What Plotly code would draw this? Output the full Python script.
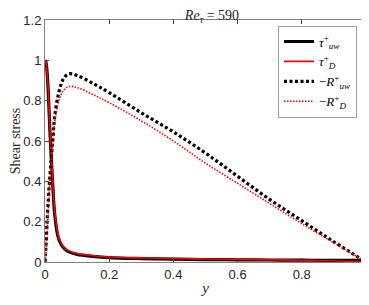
import plotly.graph_objects as go

y_pos = [0, 0.003, 0.006, 0.01, 0.015, 0.02, 0.025, 0.03, 0.04, 0.05, 0.06, 0.075,
         0.1, 0.15, 0.2, 0.3, 0.4, 0.5, 0.6, 0.7, 0.8, 0.9, 1.0]

tau_uw = [1.0, 0.99, 0.95, 0.85, 0.66, 0.5, 0.36, 0.24, 0.13, 0.088, 0.067, 0.05,
          0.038, 0.028, 0.022, 0.017, 0.014, 0.012, 0.011, 0.01, 0.009, 0.008, 0.008]
tau_D = [1.0, 0.99, 0.95, 0.86, 0.68, 0.52, 0.38, 0.26, 0.14, 0.095, 0.072, 0.055,
         0.042, 0.031, 0.025, 0.02, 0.017, 0.015, 0.013, 0.011, 0.009, 0.006, 0.0]
R_uw = [0, 0.08, 0.18, 0.3, 0.42, 0.52, 0.62, 0.72, 0.82, 0.88, 0.915, 0.933,
        0.925, 0.885, 0.84, 0.74, 0.645, 0.54, 0.425, 0.31, 0.205, 0.1, 0.0]
R_D = [0, 0.05, 0.13, 0.25, 0.4, 0.5, 0.6, 0.69, 0.78, 0.83, 0.855, 0.87,
       0.865, 0.83, 0.79, 0.7, 0.6, 0.49, 0.39, 0.29, 0.19, 0.095, 0.0]

x_ticks = [0, 0.2, 0.4, 0.6, 0.8, 1]
x_labels = ["0", "0.2", "0.4", "0.6", "0.8", "1"]
y_ticks = [0, 0.2, 0.4, 0.6, 0.8, 1, 1.2]
y_labels = ["0", "0.2", "0.4", "0.6", "0.8", "1", "1.2"]

names = ["<i>τ</i><sup>+</sup><sub><i>uw</i></sub>",
         "<i>τ</i><sup>+</sup><sub><i>D</i></sub>",
         "−<i>R</i><sup>+</sup><sub><i>uw</i></sub>",
         "−<i>R</i><sup>+</sup><sub><i>D</i></sub>"]

fig = go.Figure()
fig.add_trace(go.Scatter(x=y_pos, y=tau_uw, mode="lines", name=names[0],
                         line=dict(color="black", width=3.2, shape="spline")))
fig.add_trace(go.Scatter(x=y_pos, y=tau_D, mode="lines", name=names[1],
                         line=dict(color="red", width=1.6, shape="spline")))
fig.add_trace(go.Scatter(x=y_pos, y=R_uw, mode="lines", name=names[2],
                         line=dict(color="black", width=3.2, dash="3px,2.5px", shape="spline")))
fig.add_trace(go.Scatter(x=y_pos, y=R_D, mode="lines", name=names[3],
                         line=dict(color="red", width=1.6, dash="1.5px,1.5px", shape="spline")))

axis_common = dict(showline=True, mirror="ticks", linecolor="#808080", linewidth=1,
                   ticks="inside", ticklen=4, tickcolor="#404040", showgrid=False,
                   zeroline=False, automargin=False, ticklabeloverflow="allow",
                   tickfont=dict(family="Liberation Sans, Arial", size=13, color="#262626"))

fig.update_xaxes(range=[0, 1], tickvals=x_ticks, ticktext=x_labels,
                 title=dict(text="<i>y</i>", font=dict(family="Liberation Serif", size=15, color="#262626"),
                            standoff=1), **axis_common)
fig.update_yaxes(range=[0, 1.2], tickvals=y_ticks, ticktext=y_labels,
                 title=dict(text="Shear stress", font=dict(family="Liberation Serif", size=14, color="#262626"),
                            standoff=3), **axis_common)

# the page body adds an 8px offset on the left and top, so the figure is sized to fill the rest
fig.update_layout(
    width=361, height=297,
    margin=dict(l=37, r=3, t=12, b=43),
    paper_bgcolor="white", plot_bgcolor="white",
    title=dict(text="<i>Re</i><sub><i>τ</i></sub> = 590", x=0.565, xanchor="center",
               yref="container", y=0.992, yanchor="top", pad=dict(t=0, b=0),
               font=dict(family="Liberation Serif", size=14, color="#262626")),
    legend=dict(x=0.972, y=0.977, xanchor="right", yanchor="top",
                bgcolor="white", bordercolor="#a0a0a0", borderwidth=1,
                font=dict(family="Liberation Serif", size=13, color="black"),
                itemwidth=30, tracegroupgap=0),
    showlegend=True,
)

fig.write_html("out.html")
